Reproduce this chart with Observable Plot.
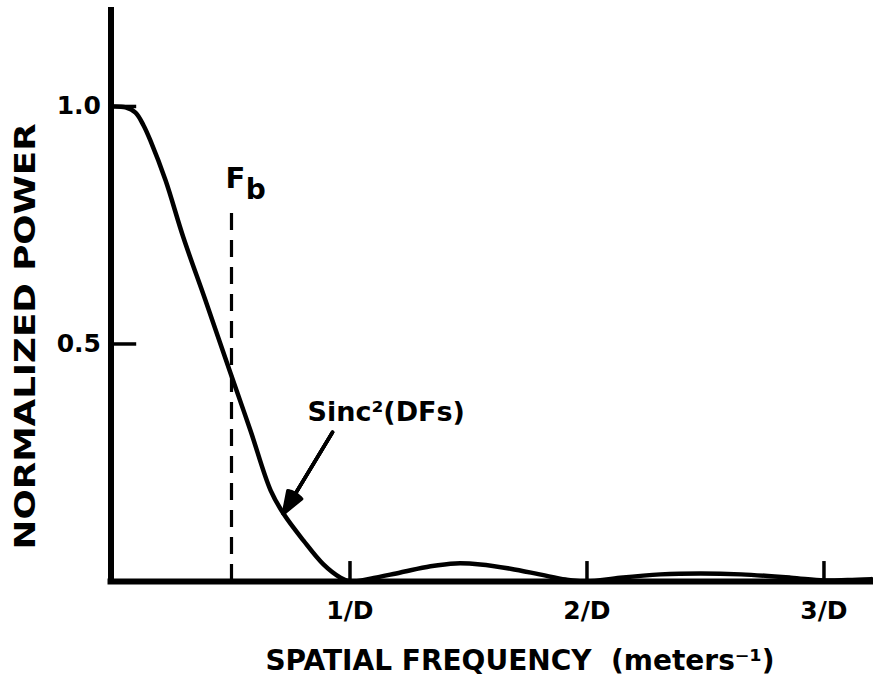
<!DOCTYPE html>
<html>
<head>
<meta charset="utf-8">
<script src="https://cdn.jsdelivr.net/npm/d3@7"></script>
<script src="https://cdn.jsdelivr.net/npm/@observablehq/plot@0.6"></script>
<style>
  html, body { margin: 0; padding: 0; background: #fff; }
  #chart svg { display: block; }
</style>
</head>
<body>
<div id="chart"></div>
<script>
// Spatial frequency (units of 1/D) and normalized power
const freq  = [0, 0.053, 0.095, 0.129, 0.158, 0.222, 0.297, 0.390, 0.492, 0.580, 0.665, 0.719, 0.804, 0.888, 0.960, 1.0,
               1.086, 1.213, 1.34, 1.445, 1.55, 1.677, 1.80, 1.91, 2.0,
               2.14, 2.31, 2.48, 2.65, 2.86, 3.0, 3.1, 3.2];
const power = [1.0, 0.998, 0.987, 0.96, 0.928, 0.844, 0.724, 0.592, 0.444, 0.318, 0.192, 0.143, 0.086, 0.036, 0.008, 0.0,
               0.006, 0.019, 0.032, 0.038, 0.036, 0.027, 0.015, 0.004, 0.0,
               0.008, 0.015, 0.017, 0.015, 0.008, 0.002, 0.003, 0.005];

const xTicks = [1, 2, 3];
const xTickLabels = ["1/D", "2/D", "3/D"];
const yTicks = [0.5, 1.0];
const yTickLabels = ["0.5", "1.0"];

const fb = 0.5;          // F_b position
const fbTop = 0.78;      // top of dashed marker
const curveLabel = "Sinc²(DFs)";
const xTitle = "SPATIAL FREQUENCY  (meters⁻¹)";
const yTitle = "NORMALIZED POWER";

const curve = freq.map((f, i) => ({f, p: power[i]}));
const xt = xTicks.map((v, i) => ({v, label: xTickLabels[i]}));
const yt = yTicks.map((v, i) => ({v, label: yTickLabels[i]}));
const pointer = [{x1: 0.926, y1: 0.314, x2: 0.719, y2: 0.143}];

const FONT = "DejaVu Sans, Liberation Sans, Arial, sans-serif";

// layered arrow heads of decreasing angle give a solid arrowhead
const arrowMarks = [40, 31, 22, 13].map(a =>
  Plot.arrow(pointer, {x1: "x1", y1: "y1", x2: "x2", y2: "y2", stroke: "black", strokeWidth: 3.5, headAngle: a, headLength: 10})
);

const chart = Plot.plot({
  width: 873,
  height: 676,
  marginLeft: 112.5,
  marginRight: 0,
  marginTop: 10,
  marginBottom: 95,
  x: {domain: [0, 3.209], axis: null},
  y: {domain: [0, 1.202], axis: null},
  style: {fontFamily: FONT, background: "white", color: "black", overflow: "visible"},
  marks: [
    // axes lines
    Plot.ruleY([0], {x1: -0.021, x2: 3.209, stroke: "black", strokeWidth: 6}),
    Plot.ruleX([0], {y1: 0, y2: 1.202, dx: -2, stroke: "black", strokeWidth: 6, strokeLinecap: "square"}),
    // ticks (inward)
    Plot.ruleX(xt, {x: "v", y1: 0, y2: 0.042, stroke: "black", strokeWidth: 3.5}),
    Plot.ruleY(yt, {y: "v", x1: 0, x2: 0.1, stroke: "black", strokeWidth: 3.5}),
    // tick labels
    Plot.text(xt, {x: "v", y: 0, text: "label", dy: 37, lineAnchor: "bottom", fontSize: 25, fontWeight: "bold", fill: "black"}),
    Plot.text(yt, {x: 0, y: "v", text: "label", dx: -12, textAnchor: "end", lineAnchor: "middle", fontSize: 25, fontWeight: "bold", fill: "black"}),
    // dashed F_b marker
    Plot.ruleX([fb], {y1: 0, y2: fbTop, stroke: "black", strokeWidth: 3.2, strokeDasharray: "17,10"}),
    Plot.text(["F"], {x: 0.475, y: 0.829, text: d => d, textAnchor: "start", lineAnchor: "bottom", fontSize: 29, fontWeight: "bold", fill: "black"}),
    Plot.text(["b"], {x: 0.56, y: 0.806, text: d => d, textAnchor: "start", lineAnchor: "bottom", fontSize: 28, fontWeight: "bold", fill: "black"}),
    // the curve
    Plot.line(curve, {x: "f", y: "p", curve: "catmull-rom", stroke: "black", strokeWidth: 4.5}),
    // annotation
    ...arrowMarks,
    Plot.text([curveLabel], {x: 0.821, y: 0.337, text: d => d, textAnchor: "start", lineAnchor: "bottom", fontSize: 27, fontWeight: "bold", fill: "black"}),
    // axis titles
    Plot.text([xTitle], {x: 0.643, y: 0, dy: 88, text: d => d, textAnchor: "start", lineAnchor: "bottom", fontSize: 28, fontWeight: "bold", fill: "black"}),
    Plot.text([yTitle], {x: 0, y: 0.516, dx: -87, text: d => d, rotate: -90, textAnchor: "middle", lineAnchor: "middle", fontSize: 28, fontWeight: "bold", fill: "black"})
  ]
});

document.getElementById("chart").appendChild(chart);

// stretch the vertical title to the length seen in the reference
d3.select(chart).selectAll("text").each(function() {
  if (this.textContent === yTitle) {
    d3.select(this).attr("textLength", 426).attr("lengthAdjust", "spacingAndGlyphs");
  }
});
</script>
</body>
</html>
